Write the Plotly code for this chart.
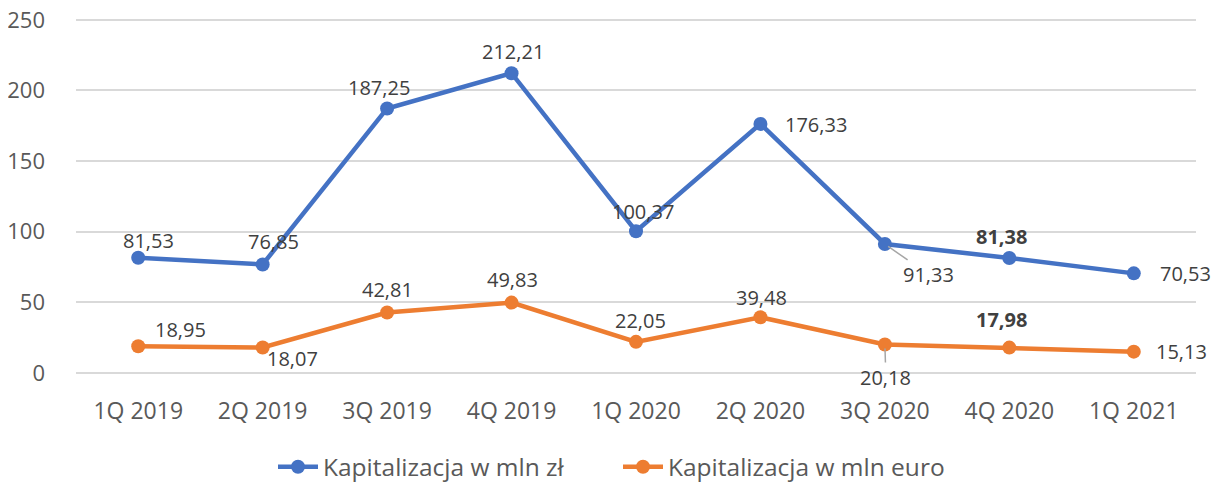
import plotly.graph_objects as go

categories = ["1Q 2019", "2Q 2019", "3Q 2019", "4Q 2019", "1Q 2020", "2Q 2020", "3Q 2020", "4Q 2020", "1Q 2021"]
pln = [81.53, 76.85, 187.25, 212.21, 100.37, 176.33, 91.33, 81.38, 70.53]
eur = [18.95, 18.07, 42.81, 49.83, 22.05, 39.48, 20.18, 17.98, 15.13]
name_pln = "Kapitalizacja w mln zł"
name_eur = "Kapitalizacja w mln euro"
y_ticks = [0, 50, 100, 150, 200, 250]

BLUE = "#4472C4"
ORANGE = "#ED7D31"
FONT = "Open Sans"

def fmt(v):
    return f"{v:.2f}".replace(".", ",")

# label offsets (pixels): (xshift, yshift, bold, leader)
pln_off = [(10, 17, False, None), (11, 23, False, None), (-8, 21, False, None), (1, 22, False, None),
           (7, 20, False, None), (56, -1, False, None), (44, -31, False, True), (-8, 22, True, None),
           (52, 0, False, None)]
eur_off = [(42, 17, False, None), (30, -11, False, None), (0, 23, False, None), (1, 23, False, None),
           (4, 21, False, None), (1, 20, False, None), (1, -33, False, True), (-8, 28, True, None),
           (48, 0, False, None)]

fig = go.Figure()
for vals, nm, col in [(pln, name_pln, BLUE), (eur, name_eur, ORANGE)]:
    fig.add_trace(go.Scatter(
        x=categories, y=vals, name=nm, mode="lines+markers",
        line=dict(color=col, width=4.5),
        marker=dict(color=col, size=14),
    ))

annotations = []
for vals, offs in [(pln, pln_off), (eur, eur_off)]:
    for c, v, (dx, dy, bold, leader) in zip(categories, vals, offs):
        txt = f"<b>{fmt(v)}</b>" if bold else fmt(v)
        if leader:
            annotations.append(dict(
                x=c, y=v, xref="x", yref="y", text=txt, showarrow=True,
                ax=dx, ay=-dy, arrowhead=0, arrowwidth=1.5, arrowcolor="#A6A6A6",
                standoff=4, font=dict(family=FONT, size=20, color="#404040"),
            ))
        else:
            annotations.append(dict(
                x=c, y=v, xref="x", yref="y", text=txt, showarrow=False,
                xshift=dx, yshift=dy, font=dict(family=FONT, size=20, color="#404040"),
            ))

fig.update_layout(
    width=1220, height=484,
    margin=dict(l=68, r=32, t=9, b=119),
    paper_bgcolor="white", plot_bgcolor="white",
    font=dict(family=FONT, size=22, color="#595959"),
    showlegend=True,
    legend=dict(orientation="h", x=0.5, xanchor="center", xref="container",
                y=0.052, yanchor="middle", yref="container",
                font=dict(family=FONT, size=24.5, color="#595959"), itemwidth=40,
                entrywidth=290),
    xaxis=dict(range=[-0.5, 8.5], showgrid=False, showline=False, ticks="",
               ticklabelstandoff=22, automargin=False,
               tickfont=dict(family=FONT, size=23, color="#595959")),
    yaxis=dict(range=[0, 252], tickvals=y_ticks, showgrid=True, gridcolor="#D9D9D9",
               gridwidth=1.5, zeroline=True, zerolinecolor="#D9D9D9", zerolinewidth=1.5,
               showline=False, ticks="", ticklabelstandoff=30, automargin=False,
               ticklabeloverflow="allow",
               tickfont=dict(family=FONT, size=22, color="#595959")),
    annotations=annotations,
)

fig.write_html("out.html")
